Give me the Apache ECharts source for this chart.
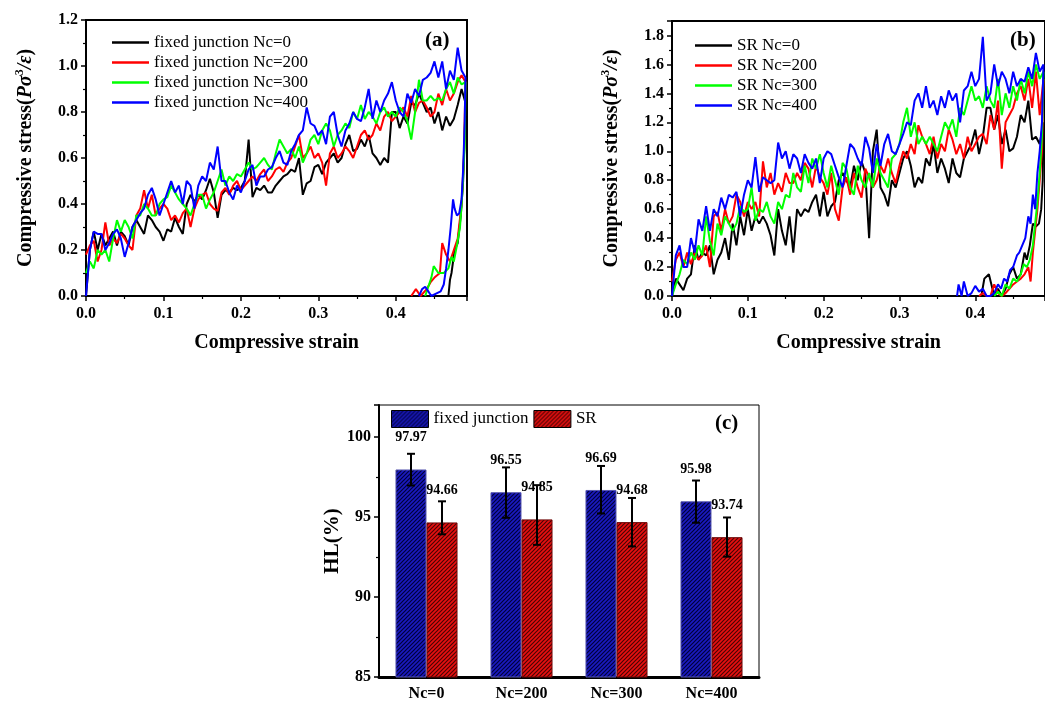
<!DOCTYPE html>
<html>
<head>
<meta charset="utf-8">
<script src="https://cdn.jsdelivr.net/npm/echarts@6/dist/echarts.min.js"></script>
<style>
  html, body { margin: 0; padding: 0; background: #fff; }
  #chart { width: 1045px; height: 702px; }
</style>
</head>
<body>
<div id="chart"></div>
<script>
// ---- shared strain sampling for the loading branch ----
const strain = [
  0, 0.005, 0.01, 0.015, 0.02, 0.025, 0.03, 0.035, 0.04, 0.045,
  0.05, 0.055, 0.06, 0.065, 0.07, 0.075, 0.08, 0.085, 0.09, 0.095,
  0.1, 0.105, 0.11, 0.115, 0.12, 0.125, 0.13, 0.135, 0.14, 0.145,
  0.15, 0.155, 0.16, 0.165, 0.17, 0.175, 0.18, 0.185, 0.19, 0.195,
  0.2, 0.205, 0.21, 0.215, 0.22, 0.225, 0.23, 0.235, 0.24, 0.245,
  0.25, 0.255, 0.26, 0.265, 0.27, 0.275, 0.28, 0.285, 0.29, 0.295,
  0.3, 0.305, 0.31, 0.315, 0.32, 0.325, 0.33, 0.335, 0.34, 0.345,
  0.35, 0.355, 0.36, 0.365, 0.37, 0.375, 0.38, 0.385, 0.39, 0.395,
  0.4, 0.405, 0.41, 0.415, 0.42, 0.425, 0.43, 0.435, 0.44, 0.445,
  0.45, 0.455, 0.46, 0.465, 0.47, 0.475, 0.48, 0.485, 0.49
];

// ---- (a) fixed junction: loading stress ----
const fixedNc0 = [
  0.0, 0.2, 0.28, 0.2, 0.27, 0.22, 0.25, 0.28, 0.22, 0.28,
  0.26, 0.22, 0.3, 0.33, 0.3, 0.27, 0.35, 0.33, 0.3, 0.28,
  0.24, 0.29, 0.28, 0.34, 0.3, 0.27, 0.4, 0.44, 0.41, 0.44,
  0.42, 0.46, 0.51, 0.45, 0.34, 0.44, 0.46, 0.45, 0.47, 0.46,
  0.47, 0.5, 0.68, 0.43, 0.47, 0.46, 0.48, 0.45, 0.45, 0.48,
  0.5, 0.52, 0.53, 0.55, 0.54, 0.6, 0.44, 0.49, 0.5, 0.56,
  0.57, 0.53, 0.58, 0.6, 0.62, 0.58, 0.6, 0.66, 0.7, 0.63,
  0.64, 0.68, 0.65, 0.7, 0.62, 0.6, 0.57, 0.6, 0.58, 0.8,
  0.8, 0.73, 0.78, 0.75, 0.84, 0.83, 0.88, 0.84, 0.8, 0.82,
  0.75, 0.8, 0.72, 0.78, 0.74, 0.77, 0.83, 0.9, 0.84
];
const fixedNc200 = [
  0.18, 0.22, 0.24, 0.15, 0.2, 0.32, 0.22, 0.25, 0.23, 0.27,
  0.25, 0.22, 0.2, 0.35, 0.38, 0.46, 0.38, 0.44, 0.35, 0.38,
  0.4, 0.38, 0.33, 0.35, 0.32, 0.36, 0.38, 0.3, 0.38, 0.42,
  0.44, 0.45, 0.4, 0.38, 0.37, 0.45, 0.47, 0.44, 0.48, 0.5,
  0.46, 0.48, 0.5, 0.52, 0.5, 0.53, 0.55, 0.5, 0.52, 0.55,
  0.56, 0.54, 0.58, 0.6, 0.65, 0.7, 0.6, 0.62, 0.65, 0.6,
  0.62, 0.58, 0.48, 0.62, 0.65, 0.6, 0.62, 0.65, 0.63, 0.6,
  0.65, 0.7, 0.72, 0.68, 0.7, 0.75, 0.72, 0.78, 0.8, 0.76,
  0.78, 0.8, 0.82, 0.78, 0.87, 0.8, 0.84, 0.85, 0.82, 0.78,
  0.8, 0.88, 0.83, 0.9, 0.85, 0.88, 0.93, 0.96, 0.93
];
const fixedNc300 = [
  0.1, 0.15, 0.12, 0.2, 0.18, 0.2, 0.15, 0.25, 0.33, 0.28,
  0.33, 0.3, 0.25, 0.35, 0.35, 0.4, 0.38, 0.35, 0.35, 0.4,
  0.42, 0.43, 0.48, 0.45, 0.42, 0.4, 0.38, 0.35, 0.4, 0.44,
  0.44, 0.38, 0.42, 0.45, 0.5, 0.55, 0.48, 0.52, 0.5, 0.53,
  0.52, 0.55, 0.58, 0.55, 0.56, 0.58, 0.6, 0.57, 0.55, 0.62,
  0.68, 0.65, 0.62, 0.64, 0.6, 0.65, 0.58, 0.62, 0.68, 0.7,
  0.66, 0.72, 0.75, 0.72, 0.65, 0.7, 0.72, 0.75, 0.73, 0.8,
  0.77, 0.83, 0.77, 0.8, 0.78, 0.75, 0.8, 0.82, 0.78, 0.8,
  0.78, 0.82, 0.8, 0.76, 0.68, 0.8, 0.94, 0.85, 0.85, 0.87,
  0.85, 0.86, 0.85, 0.9, 0.93, 0.88, 0.95, 0.92, 0.93
];
const fixedNc400 = [
  0.0, 0.2, 0.28, 0.27, 0.27, 0.2, 0.23, 0.27, 0.29, 0.25,
  0.17, 0.23, 0.3, 0.33, 0.36, 0.38, 0.44, 0.47, 0.42, 0.35,
  0.4, 0.45, 0.5, 0.45, 0.48, 0.4, 0.5, 0.48, 0.38, 0.48,
  0.52, 0.5, 0.58, 0.55, 0.65, 0.5, 0.5, 0.45, 0.42, 0.48,
  0.45, 0.5, 0.55, 0.57, 0.48, 0.52, 0.52, 0.55, 0.56, 0.6,
  0.63, 0.58, 0.57, 0.63, 0.66, 0.7, 0.72, 0.82, 0.75, 0.74,
  0.7, 0.72, 0.66, 0.78, 0.8, 0.7, 0.65, 0.72, 0.75, 0.8,
  0.77, 0.76, 0.82, 0.9, 0.77, 0.85, 0.8, 0.85, 0.88, 0.93,
  0.85, 0.8, 0.78, 0.88, 0.84, 0.9, 0.87, 0.94, 0.95, 0.97,
  1.02, 0.95, 1.02, 0.9, 0.98, 0.94, 1.08, 0.98, 0.95
];
// (a) unloading branch: [strain, stress]
const fixedNc0Unload = [[0.489, 0.7], [0.487, 0.5], [0.484, 0.35], [0.48, 0.23], [0.476, 0.2], [0.472, 0.1], [0.47, 0.07], [0.468, 0.0]];
const fixedNc200Unload = [[0.488, 0.6], [0.485, 0.4], [0.48, 0.25], [0.475, 0.2], [0.47, 0.15], [0.465, 0.18], [0.46, 0.23], [0.457, 0.1], [0.45, 0.08], [0.445, 0.06], [0.44, 0.03], [0.432, 0.0], [0.426, 0.03], [0.42, 0.0]];
const fixedNc300Unload = [[0.489, 0.65], [0.486, 0.45], [0.483, 0.3], [0.479, 0.22], [0.475, 0.15], [0.472, 0.17], [0.468, 0.12], [0.462, 0.1], [0.455, 0.1], [0.449, 0.13], [0.446, 0.08], [0.442, 0.04], [0.438, 0.0]];
const fixedNc400Unload = [[0.489, 0.75], [0.487, 0.55], [0.485, 0.42], [0.482, 0.36], [0.479, 0.35], [0.476, 0.38], [0.474, 0.42], [0.471, 0.3], [0.468, 0.2], [0.465, 0.12], [0.462, 0.05], [0.458, 0.02], [0.452, 0.01], [0.446, 0.0], [0.442, 0.02], [0.438, 0.04], [0.434, 0.03], [0.43, 0.0]];

// ---- (b) SR: loading stress ----
const srNc0 = [
  0.0, 0.12, 0.08, 0.04, 0.12, 0.15, 0.35, 0.25, 0.3, 0.28,
  0.35, 0.15, 0.25, 0.3, 0.4, 0.25, 0.5, 0.35, 0.55, 0.42,
  0.6, 0.45, 0.55, 0.5, 0.55, 0.5, 0.42, 0.28, 0.6, 0.45,
  0.35, 0.55, 0.3, 0.6, 0.55, 0.6, 0.58, 0.65, 0.7, 0.55,
  0.72, 0.55, 0.62, 0.65, 0.8, 0.85, 0.8, 0.75, 0.9, 0.8,
  0.93, 0.85, 0.4, 1.0, 1.15, 0.75, 0.7, 0.62, 0.8, 0.75,
  0.85, 0.95, 1.0, 0.9, 0.75, 0.82, 0.78, 0.95, 0.9, 1.05,
  0.85, 0.95, 0.88, 0.78, 0.95, 0.85, 0.82, 0.95, 1.0, 1.05,
  1.15, 0.98, 1.1, 1.3, 1.3, 1.15, 1.25, 1.05, 1.15, 1.0,
  1.02, 1.1, 1.25, 1.2, 1.35, 1.08, 1.1, 1.05, 1.2
];
const srNc200 = [
  0.1, 0.25, 0.3, 0.2, 0.3, 0.22, 0.3, 0.25, 0.28, 0.35,
  0.2, 0.55, 0.58, 0.45, 0.6, 0.5, 0.55, 0.7, 0.65, 0.55,
  0.65, 0.6, 0.65, 0.55, 0.93, 0.75, 0.85, 0.7, 0.78, 0.72,
  0.85, 0.78, 0.78, 0.85, 0.8, 0.92, 0.88, 0.75, 0.9, 0.82,
  0.78, 0.7, 0.85, 0.6, 0.52, 0.75, 0.82, 0.7, 0.85, 0.75,
  0.68, 0.88, 0.82, 0.75, 0.8, 0.9, 0.85, 0.95, 0.85, 0.78,
  0.9, 1.0, 0.95, 1.05, 0.98, 1.18, 1.1, 1.05, 0.98, 1.1,
  0.95, 1.05, 1.0, 1.15, 1.08, 0.98, 1.05, 0.95, 1.1, 1.0,
  1.05, 1.1, 1.12, 1.05, 1.25, 1.15, 1.35, 0.88, 1.2, 1.25,
  1.3, 1.4, 1.45, 1.35, 1.5, 1.3, 1.55, 1.25, 1.5
];
const srNc300 = [
  0.0, 0.08, 0.15, 0.25, 0.22, 0.3, 0.25, 0.35, 0.28, 0.55,
  0.38, 0.28, 0.5, 0.42, 0.55, 0.5, 0.45, 0.5, 0.62, 0.58,
  0.6, 0.75, 0.52, 0.6, 0.58, 0.65, 0.55, 0.5, 0.65, 0.6,
  0.7, 0.68, 0.85, 0.75, 0.72, 0.9, 0.78, 0.95, 0.88, 0.98,
  0.85, 0.75, 0.9, 0.8, 0.7, 0.92, 0.88, 0.75, 0.7, 0.9,
  0.8, 0.75, 0.85, 0.75, 0.95, 0.85, 0.8, 0.75, 0.95, 0.98,
  1.05, 1.2, 1.3, 1.1, 1.2, 1.05, 1.1, 1.05, 1.1, 1.05,
  1.0, 1.1, 1.2, 1.15, 1.22, 1.1, 1.3, 1.25, 1.35, 1.45,
  1.35, 1.38, 1.3, 1.45, 1.35, 1.3, 1.5, 1.25, 1.4, 1.3,
  1.45, 1.35, 1.5, 1.4, 1.55, 1.45, 1.6, 1.5, 1.55
];
const srNc400 = [
  0.0, 0.28, 0.35, 0.2, 0.2, 0.4, 0.3, 0.53, 0.45, 0.62,
  0.45, 0.6, 0.55, 0.68, 0.6, 0.7, 0.68, 0.72, 0.55, 0.7,
  0.8, 0.75, 0.96, 0.72, 0.82, 0.8, 0.78, 0.8, 1.06, 0.95,
  1.0, 0.88, 0.98, 0.95, 0.85, 0.98, 0.92, 0.88, 0.95, 0.78,
  0.95, 1.0, 0.98, 0.9, 0.82, 0.75, 0.9, 1.05, 1.02, 0.95,
  0.9, 1.1, 1.02, 0.85, 1.05, 0.9, 1.05, 1.12, 1.0, 0.98,
  1.05, 1.12, 1.2, 1.18, 1.35, 1.4, 1.3, 1.45, 1.3, 1.35,
  1.25, 1.38, 1.3, 1.42, 1.35, 1.4, 1.2, 1.42, 1.45, 1.55,
  1.45, 1.5, 1.79, 1.35, 1.4, 1.6, 1.45, 1.55, 1.5, 1.4,
  1.55, 1.45, 1.5, 1.48, 1.58, 1.5, 1.68, 1.55, 1.6
];
// (b) unloading branch: [strain, stress]
const srNc0Unload = [[0.489, 0.8], [0.487, 0.6], [0.484, 0.5], [0.48, 0.48], [0.476, 0.5], [0.472, 0.35], [0.468, 0.25], [0.465, 0.3], [0.46, 0.15], [0.455, 0.12], [0.45, 0.2], [0.445, 0.15], [0.44, 0.05], [0.435, 0.0], [0.43, 0.05], [0.425, 0.0], [0.418, 0.15], [0.412, 0.12], [0.408, 0.0]];
const srNc200Unload = [[0.488, 1.0], [0.485, 0.8], [0.482, 0.6], [0.479, 0.45], [0.476, 0.3], [0.473, 0.1], [0.47, 0.2], [0.465, 0.15], [0.46, 0.12], [0.455, 0.1], [0.45, 0.08], [0.445, 0.05], [0.44, 0.02], [0.435, 0.0], [0.43, 0.02], [0.425, 0.08], [0.42, 0.0], [0.415, 0.0], [0.41, 0.02], [0.405, 0.0]];
const srNc300Unload = [[0.488, 1.1], [0.485, 0.85], [0.482, 0.65], [0.479, 0.5], [0.476, 0.35], [0.472, 0.25], [0.468, 0.2], [0.464, 0.22], [0.46, 0.15], [0.455, 0.1], [0.45, 0.12], [0.445, 0.05], [0.44, 0.08], [0.435, 0.0], [0.43, 0.03], [0.425, 0.0]];
const srNc400Unload = [[0.488, 1.2], [0.485, 1.0], [0.482, 0.85], [0.479, 0.6], [0.476, 0.7], [0.473, 0.5], [0.47, 0.55], [0.466, 0.4], [0.462, 0.35], [0.458, 0.3], [0.455, 0.28], [0.45, 0.2], [0.446, 0.18], [0.442, 0.1], [0.438, 0.12], [0.434, 0.05], [0.43, 0.08], [0.425, 0.02], [0.42, 0.0], [0.415, 0.0], [0.41, 0.05], [0.405, 0.03], [0.4, 0.07], [0.395, 0.02], [0.39, 0.0], [0.385, 0.1], [0.382, 0.0], [0.378, 0.08], [0.376, 0.0]];

// ---- (c) hysteresis loss ----
const hlCategories = ['Nc=0', 'Nc=200', 'Nc=300', 'Nc=400'];
const hlFixed = [97.97, 96.55, 96.69, 95.98];
const hlSR = [94.66, 94.85, 94.68, 93.74];
const hlFixedHigh = [98.95, 98.1, 98.19, 97.28];
const hlFixedLow = [96.97, 94.95, 95.22, 94.64];
const hlSRHigh = [95.98, 96.99, 96.19, 94.97];
const hlSRLow = [93.92, 93.26, 93.16, 92.52];

// ---------------------------------------------------------------
const SERIF = '"Liberation Serif", "Times New Roman", serif';
const COLORS = ['#000000', '#ff0000', '#00ff00', '#0000ff'];

function curve(load, unload) {
  return strain.map((s, i) => [s, load[i]]).concat(unload);
}

function hatch(bg, ink) {
  const c = document.createElement('canvas');
  c.width = 4; c.height = 4;
  const g = c.getContext('2d');
  g.fillStyle = bg; g.fillRect(0, 0, 4, 4);
  g.strokeStyle = ink; g.lineWidth = 1.2;
  g.beginPath();
  g.moveTo(-1, 5); g.lineTo(5, -1);
  g.moveTo(-1, 1); g.lineTo(1, -1);
  g.moveTo(3, 5); g.lineTo(5, 3);
  g.stroke();
  return c;
}
const bluePattern = { image: hatch('#1a1ac0', '#00003a'), repeat: 'repeat' };
const redPattern = { image: hatch('#e81010', '#4a0404'), repeat: 'repeat' };

const tickLabel = { fontFamily: SERIF, fontWeight: 'bold', fontSize: 16, color: '#000' };
const titleStyle = { fontFamily: SERIF, fontWeight: 'bold', fontSize: 20, color: '#000' };
const stressName = '{b|Compressive stress(}{i|Pσ}{s|3}{i|/ε}{b|)}';
const stressRich = {
  b: { fontFamily: SERIF, fontWeight: 'bold', fontSize: 20, lineHeight: 24 },
  i: { fontFamily: SERIF, fontWeight: 'bold', fontStyle: 'italic', fontSize: 20, lineHeight: 24 },
  s: { fontFamily: SERIF, fontWeight: 'bold', fontSize: 12, lineHeight: 12, verticalAlign: 'top' }
};

function strainAxis(gridIndex) {
  return {
    type: 'value', gridIndex, min: 0, max: 0.492, interval: 0.1,
    name: 'Compressive strain', nameLocation: 'middle', nameGap: 37,
    nameTextStyle: titleStyle,
    axisLine: { show: true, onZero: false, lineStyle: { color: '#000', width: 2 } },
    axisTick: { show: true, length: 5, lineStyle: { color: '#000', width: 1.5 } },
    minorTick: { show: true, splitNumber: 2, length: 3, lineStyle: { color: '#000', width: 1.2 } },
    axisLabel: Object.assign({ margin: 10, showMaxLabel: false, formatter: v => v.toFixed(1) }, tickLabel),
    splitLine: { show: false }
  };
}
function stressAxis(gridIndex, max, showMax) {
  return {
    type: 'value', gridIndex, min: 0, max, interval: 0.2,
    name: stressName, nameLocation: 'middle', nameGap: 48,
    nameTextStyle: Object.assign({ rich: stressRich }, titleStyle),
    axisLine: { show: true, onZero: false, lineStyle: { color: '#000', width: 2 } },
    axisTick: { show: true, length: 5, lineStyle: { color: '#000', width: 1.5 } },
    minorTick: { show: true, splitNumber: 2, length: 3, lineStyle: { color: '#000', width: 1.2 } },
    axisLabel: Object.assign({ margin: 8, showMaxLabel: showMax, formatter: v => v.toFixed(1) }, tickLabel),
    splitLine: { show: false }
  };
}
function lineSeries(name, data, color, axisIndex) {
  return {
    type: 'line', name, data, xAxisIndex: axisIndex, yAxisIndex: axisIndex,
    symbol: 'none', smooth: false, animation: false,
    lineStyle: { color, width: 2 }, itemStyle: { color }
  };
}
function errorBars(high, low, shift) {
  return {
    type: 'custom', xAxisIndex: 2, yAxisIndex: 2, z: 5, animation: false,
    silent: true,
    data: high.map((h, i) => [i, low[i], h]),
    encode: { x: 0, y: [1, 2] },
    renderItem: function (params, api) {
      const ci = api.value(0);
      const lo = api.coord([ci, api.value(1)]);
      const hi = api.coord([ci, api.value(2)]);
      const band = api.size([1, 0])[0];
      const x = lo[0] + shift * band;
      const cap = 4;
      const st = { stroke: '#000', lineWidth: 2 };
      return {
        type: 'group',
        children: [
          { type: 'line', shape: { x1: x, y1: lo[1], x2: x, y2: hi[1] }, style: st },
          { type: 'line', shape: { x1: x - cap, y1: hi[1], x2: x + cap, y2: hi[1] }, style: st },
          { type: 'line', shape: { x1: x - cap, y1: lo[1], x2: x + cap, y2: lo[1] }, style: st }
        ]
      };
    }
  };
}

const legendText = { fontFamily: SERIF, fontSize: 17, color: '#000' };

const option = {
  backgroundColor: '#fff',
  animation: false,
  grid: [
    { left: 86, top: 20, width: 381, height: 276, show: true, borderColor: '#000', borderWidth: 2, containLabel: false },
    { left: 672, top: 21, width: 381, height: 275, show: true, borderColor: '#000', borderWidth: 2, containLabel: false },
    { left: 379, top: 405, width: 380, height: 276, show: true, borderColor: '#000', borderWidth: 1, containLabel: false }
  ],
  xAxis: [
    strainAxis(0),
    strainAxis(1),
    {
      type: 'category', gridIndex: 2, data: hlCategories,
      axisLine: { show: true, lineStyle: { color: '#000', width: 3 } },
      axisTick: { show: false },
      axisLabel: Object.assign({ margin: 9 }, tickLabel),
      splitLine: { show: false }
    }
  ],
  yAxis: [
    stressAxis(0, 1.2, true),
    stressAxis(1, 1.9, false),
    {
      type: 'value', gridIndex: 2, min: 85, max: 102, interval: 5,
      name: 'HL(%)', nameLocation: 'middle', nameGap: 34,
      nameTextStyle: Object.assign({}, titleStyle, { fontSize: 21 }),
      axisLine: { show: true, onZero: false, lineStyle: { color: '#000', width: 2 } },
      axisTick: { show: true, length: 5, lineStyle: { color: '#000', width: 1.5 } },
      minorTick: { show: true, splitNumber: 2, length: 3, lineStyle: { color: '#000', width: 1.2 } },
      axisLabel: Object.assign({ margin: 8, showMaxLabel: false }, tickLabel),
      splitLine: { show: false }
    }
  ],
  legend: [
    {
      left: 112, top: 34, orient: 'vertical', padding: 0, itemGap: 3,
      icon: 'rect', itemWidth: 37, itemHeight: 2.5, textStyle: legendText,
      data: ['fixed junction Nc=0', 'fixed junction Nc=200', 'fixed junction Nc=300', 'fixed junction Nc=400']
    },
    {
      left: 695, top: 37, orient: 'vertical', padding: 0, itemGap: 3,
      icon: 'rect', itemWidth: 37, itemHeight: 2.5, textStyle: legendText,
      data: ['SR Nc=0', 'SR Nc=200', 'SR Nc=300', 'SR Nc=400']
    },
    {
      left: 391, top: 410, orient: 'horizontal', padding: 0, itemGap: 5,
      icon: 'rect', itemWidth: 37, itemHeight: 17, textStyle: legendText,
      itemStyle: { borderColor: '#000', borderWidth: 1 },
      data: ['fixed junction', 'SR']
    }
  ],
  graphic: [
    { type: 'text', left: 425, top: 30, style: { text: '(a)', font: 'bold 21px ' + SERIF, fill: '#000' } },
    { type: 'text', left: 1010, top: 30, style: { text: '(b)', font: 'bold 21px ' + SERIF, fill: '#000' } },
    { type: 'text', left: 715, top: 413, style: { text: '(c)', font: 'bold 21px ' + SERIF, fill: '#000' } }
  ],
  series: [
    lineSeries('fixed junction Nc=0', curve(fixedNc0, fixedNc0Unload), COLORS[0], 0),
    lineSeries('fixed junction Nc=200', curve(fixedNc200, fixedNc200Unload), COLORS[1], 0),
    lineSeries('fixed junction Nc=300', curve(fixedNc300, fixedNc300Unload), COLORS[2], 0),
    lineSeries('fixed junction Nc=400', curve(fixedNc400, fixedNc400Unload), COLORS[3], 0),
    lineSeries('SR Nc=0', curve(srNc0, srNc0Unload), COLORS[0], 1),
    lineSeries('SR Nc=200', curve(srNc200, srNc200Unload), COLORS[1], 1),
    lineSeries('SR Nc=300', curve(srNc300, srNc300Unload), COLORS[2], 1),
    lineSeries('SR Nc=400', curve(srNc400, srNc400Unload), COLORS[3], 1),
    {
      type: 'bar', name: 'fixed junction', xAxisIndex: 2, yAxisIndex: 2, data: hlFixed,
      barGap: '0%', barCategoryGap: '34.7%',
      itemStyle: { color: bluePattern, borderColor: '#5858b0', borderWidth: 1 },
      label: { show: true, position: 'top', distance: 25, fontFamily: SERIF, fontWeight: 'bold', fontSize: 14, color: '#000' }
    },
    {
      type: 'bar', name: 'SR', xAxisIndex: 2, yAxisIndex: 2, data: hlSR,
      barGap: '0%', barCategoryGap: '34.7%',
      itemStyle: { color: redPattern, borderColor: '#700808', borderWidth: 1 },
      label: { show: true, position: 'top', distance: 25, fontFamily: SERIF, fontWeight: 'bold', fontSize: 14, color: '#000' }
    },
    errorBars(hlFixedHigh, hlFixedLow, -0.1632),
    errorBars(hlSRHigh, hlSRLow, 0.1632)
  ]
};

const chart = echarts.init(document.getElementById('chart'), null, { renderer: 'canvas' });
chart.setOption(option);
</script>
</body>
</html>
